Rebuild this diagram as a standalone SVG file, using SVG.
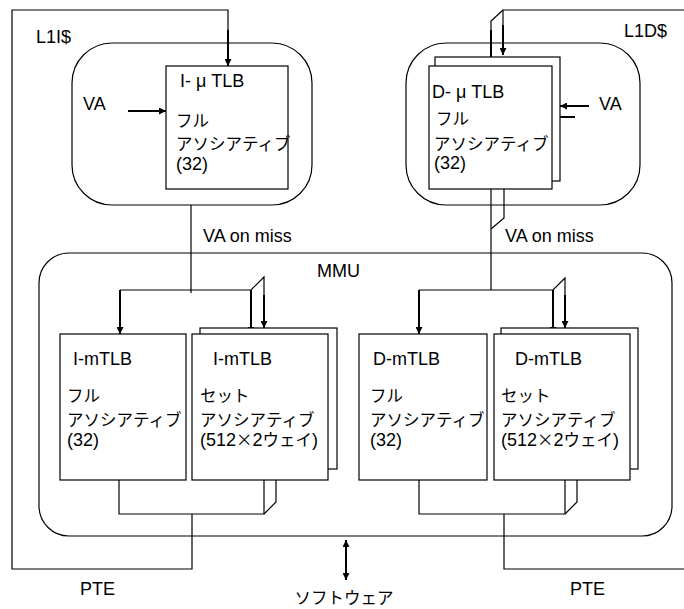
<svg xmlns="http://www.w3.org/2000/svg" width="684" height="609" viewBox="0 0 684 609">
<style>
  text { font-family: "Liberation Sans", "Noto Sans CJK JP", sans-serif; font-size: 18px; fill: #000; }
  .jp { font-family: "Noto Sans CJK JP", sans-serif; font-size: 16.5px; }
  .box { fill: #fff; stroke: #000; stroke-width: 1.2; }
  .frame { fill: none; stroke: #000; stroke-width: 1.2; }
  .ln { fill: none; stroke: #000; stroke-width: 1.2; }
  .ar { fill: none; stroke: #000; stroke-width: 2; marker-end: url(#ah); }
</style>
<defs>
  <marker id="ah" markerUnits="userSpaceOnUse" markerWidth="8" markerHeight="7" refX="7" refY="3.5" orient="auto">
    <path d="M0,0 L7,3.5 L0,7 z" fill="#000"/>
  </marker>
  <marker id="ahs" markerUnits="userSpaceOnUse" markerWidth="8" markerHeight="7" refX="1" refY="3.5" orient="auto">
    <path d="M8,0 L1,3.5 L8,7 z" fill="#000"/>
  </marker>
</defs>

<g id="connectors">
  <path class="ln" d="M192,514 V569 H12 V10 H228 V30"/>
  <path class="ar" d="M228,30 V66"/>
  <path class="ln" d="M504,514 V569 H690 V10 H503 V25"/>
  <path class="ar" d="M503,25 V55"/>
  <path class="ln" d="M503,10 L491,21 V30"/>
  <path class="ar" d="M491,30 V66"/>
  <path class="ar" d="M128,111 H166"/>
  <path class="ar" d="M589,106 H560"/>
  <path class="ar" d="M575,117 H552"/>
  <path class="ln" d="M191,205 V293"/>
  <path class="ln" d="M120,290 H251 L264,277 V300"/>
  <path class="ar" d="M120,290 V334"/>
  <path class="ar" d="M251,290 V334"/>
  <path class="ar" d="M264,295 V328"/>
  <path class="ln" d="M491,189 V290"/>
  <path class="ln" d="M504,189 V218 L491,229"/>
  <path class="ln" d="M419,290 H553 L565,278 V300"/>
  <path class="ar" d="M419,290 V334"/>
  <path class="ar" d="M553,290 V334"/>
  <path class="ar" d="M565,295 V328"/>
  <path class="ln" d="M346,540 V580" style="stroke-width:2;marker-start:url(#ahs);marker-end:url(#ah)"/>
</g>

<g id="l1i">
  <rect class="frame" x="72" y="43" width="240" height="162" rx="40" ry="40"/>
  <text x="36" y="43">L1I$</text>
  <text x="83" y="110">VA</text>
</g>
<g id="i-utlb">
  <rect class="box" x="166" y="66" width="122" height="123"/>
  <text x="180" y="87">I- μ TLB</text>
  <text class="jp" x="176" y="127">フル</text>
  <text class="jp" x="176" y="150">アソシアティブ</text>
  <text x="176" y="170">(32)</text>
</g>

<g id="l1d">
  <rect class="frame" x="406" y="43" width="234" height="162" rx="40" ry="40"/>
  <text x="624" y="37">L1D$</text>
  <text x="599" y="110">VA</text>
</g>
<g id="d-utlb">
  <rect class="box" x="435" y="57" width="125" height="124"/>
  <rect class="box" x="429" y="66" width="123" height="123"/>
  <text x="432" y="98">D- μ TLB</text>
  <text class="jp" x="436" y="125">フル</text>
  <text class="jp" x="434" y="150">アソシアティブ</text>
  <text x="434" y="169">(32)</text>
</g>

<g id="mmu">
  <rect class="frame" x="39" y="253" width="633" height="283" rx="30" ry="30"/>
  <text x="317" y="277">MMU</text>
</g>

<g id="i-mtlb-full">
  <rect class="box" x="60" y="334" width="126" height="146"/>
  <text x="73" y="365">I-mTLB</text>
  <text class="jp" x="67" y="402">フル</text>
  <text class="jp" x="67" y="426">アソシアティブ</text>
  <text x="67" y="446">(32)</text>
</g>
<g id="i-mtlb-set">
  <rect class="box" x="200" y="328" width="137" height="141"/>
  <rect class="box" x="192" y="334" width="136" height="146"/>
  <text x="213" y="365">I-mTLB</text>
  <text class="jp" x="200" y="402">セット</text>
  <text class="jp" x="200" y="426">アソシアティブ</text>
  <text x="200" y="446">(512<tspan class="jp">×</tspan>2<tspan class="jp">ウェイ</tspan>)</text>
</g>
<g id="i-combine">
  <path class="ln" d="M119,480 V514 H264 V480"/>
  <path class="ln" d="M276,480 V502 L264,514"/>
</g>

<g id="d-mtlb-full">
  <rect class="box" x="359" y="334" width="128" height="146"/>
  <text x="373" y="365">D-mTLB</text>
  <text class="jp" x="370" y="402">フル</text>
  <text class="jp" x="370" y="426">アソシアティブ</text>
  <text x="370" y="446">(32)</text>
</g>
<g id="d-mtlb-set">
  <rect class="box" x="501" y="328" width="137" height="141"/>
  <rect class="box" x="494" y="334" width="136" height="146"/>
  <text x="515" y="365">D-mTLB</text>
  <text class="jp" x="501" y="402">セット</text>
  <text class="jp" x="501" y="426">アソシアティブ</text>
  <text x="501" y="446">(512<tspan class="jp">×</tspan>2<tspan class="jp">ウェイ</tspan>)</text>
</g>
<g id="d-combine">
  <path class="ln" d="M419,480 V514 H565 V480"/>
  <path class="ln" d="M577,480 V502 L565,514"/>
</g>

<g id="labels">
  <text x="203" y="242">VA on miss</text>
  <text x="505" y="242">VA on miss</text>
  <text x="80" y="595">PTE</text>
  <text x="570" y="595">PTE</text>
  <text class="jp" x="344" y="604" text-anchor="middle">ソフトウェア</text>
</g>
</svg>
